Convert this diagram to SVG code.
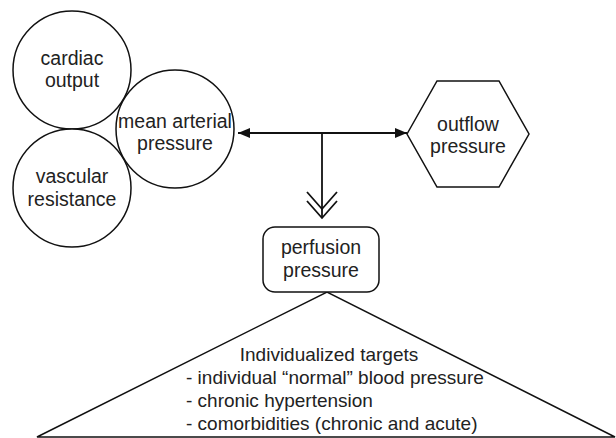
<svg xmlns="http://www.w3.org/2000/svg" width="616" height="438" viewBox="0 0 616 438">
<defs>
<style>
.s{fill:#fff;stroke:#111;stroke-width:1.5}
.t{font-family:"Liberation Sans",Arial,sans-serif;font-size:19.5px;fill:#222;text-anchor:middle}
.l{font-family:"Liberation Sans",Arial,sans-serif;font-size:19px;fill:#222}
.c{fill:none;stroke:#111;stroke-width:1.8}
</style>
<marker id="ah" viewBox="0 0 12 10" refX="12" refY="5" markerWidth="12" markerHeight="10" markerUnits="userSpaceOnUse" orient="auto">
<path d="M0,0 L12,5 L0,10 Z" fill="#111"/>
</marker>
</defs>
<g id="triangle">
<polygon class="s" points="37,437 327,292 615,437"/>
<text class="l" x="329" y="361" text-anchor="middle">Individualized targets</text>
<text class="l" x="186" y="384">- individual “normal” blood pressure</text>
<text class="l" x="186" y="407">- chronic hypertension</text>
<text class="l" x="186" y="430">- comorbidities (chronic and acute)</text>
</g>
<g id="cardiac-output">
<circle class="s" cx="72" cy="70" r="59"/>
<text class="t" x="72" y="65">cardiac</text>
<text class="t" x="72" y="87">output</text>
</g>
<g id="vascular-resistance">
<circle class="s" cx="72" cy="188" r="59"/>
<text class="t" x="72" y="183">vascular</text>
<text class="t" x="72" y="206">resistance</text>
</g>
<g id="mean-arterial-pressure">
<circle class="s" cx="175" cy="129" r="59"/>
<text class="t" x="175" y="128">mean arterial</text>
<text class="t" x="175" y="150">pressure</text>
</g>
<g id="outflow-pressure">
<polygon class="s" points="407,134 437,81 499,81 529,134 499,187 437,187"/>
<text class="t" x="468" y="131">outflow</text>
<text class="t" x="468" y="153">pressure</text>
</g>
<g id="perfusion-pressure">
<rect class="s" x="263" y="227" width="116" height="65" rx="12"/>
<text class="t" x="321" y="254">perfusion</text>
<text class="t" x="321" y="277">pressure</text>
</g>
<g id="connectors">
<line class="c" x1="322" y1="133" x2="238" y2="133" marker-end="url(#ah)"/>
<line class="c" x1="322" y1="133" x2="407" y2="133" marker-end="url(#ah)"/>
<line class="c" x1="322" y1="133" x2="322" y2="218"/>
<polyline class="c" points="307,192 322,209 337,192"/>
<polyline class="c" points="307,201 322,218 337,201"/>
</g>
</svg>
